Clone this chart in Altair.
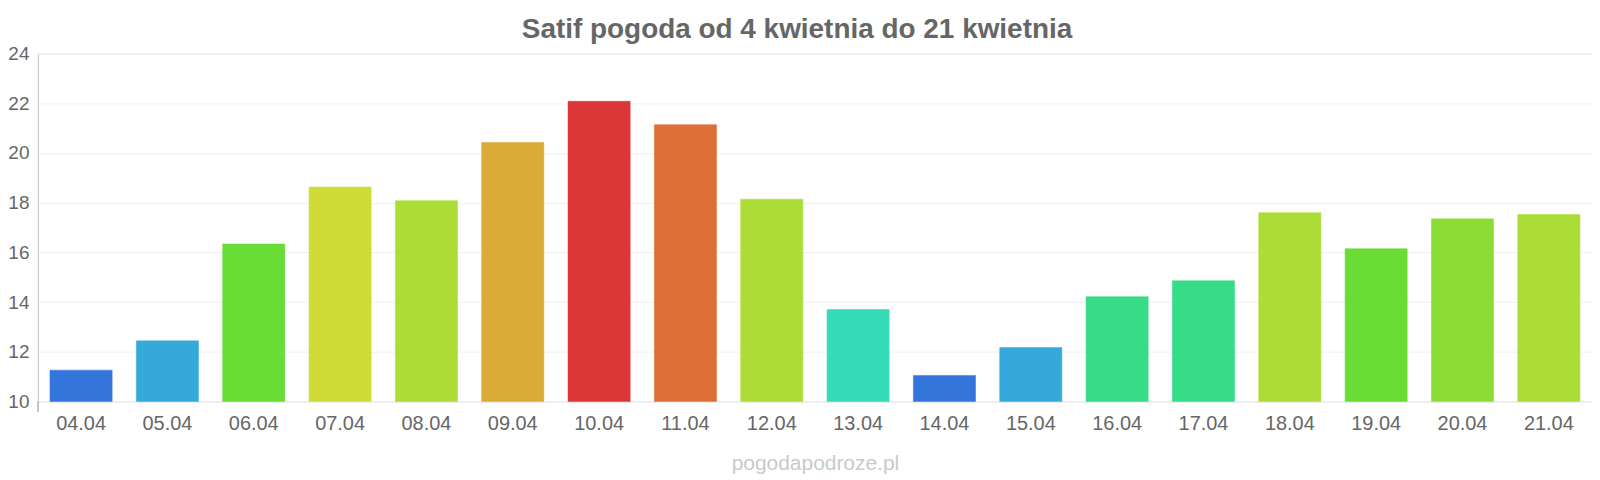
import altair as alt
import pandas as pd

dates = ["04.04", "05.04", "06.04", "07.04", "08.04", "09.04", "10.04", "11.04", "12.04",
         "13.04", "14.04", "15.04", "16.04", "17.04", "18.04", "19.04", "20.04", "21.04"]
temps = [11.26, 12.44, 16.34, 18.63, 18.08, 20.42, 22.08, 21.14, 18.14,
         13.70, 11.05, 12.17, 14.22, 14.86, 17.60, 16.15, 17.35, 17.52]
colors = ["#3475db", "#36a9db", "#6adc36", "#cfdc36", "#acdc36", "#dcaa36", "#dc3636", "#dc7036", "#acdc36",
          "#36dbb8", "#3475db", "#36a9db", "#36dc87", "#36dc87", "#acdc36", "#6adc36", "#8cdc36", "#acdc36"]
y_ticks = [10, 12, 14, 16, 18, 20, 22, 24]
y_base = 10

df = pd.DataFrame({"date": dates, "temp": temps})

FONT = "Liberation Sans"

bars = alt.Chart(df).mark_bar(strokeWidth=1, strokeOpacity=0.5).encode(
    x=alt.X("date:N", sort=dates,
            scale=alt.Scale(paddingInner=0.28, paddingOuter=0.14),
            axis=alt.Axis(title="pogodapodroze.pl", titleFont=FONT, titleFontSize=21,
                          titleFontWeight="normal", titleColor="#c5cbce", titlePadding=19,
                          labelFont=FONT, labelFontSize=20, labelColor="#666666",
                          labelPadding=12, ticks=False, domain=False, labelAngle=0)),
    y=alt.Y("temp:Q", scale=alt.Scale(domain=[10, 24], nice=False, zero=False),
            axis=alt.Axis(title=None, values=y_ticks, labelFont=FONT, labelFontSize=19,
                          labelColor="#666666", labelPadding=9, ticks=False,
                          domainColor="#c0c8cc", domainWidth=1,
                          gridColor="#f0f0f0", gridWidth=1)),
    y2=alt.datum(y_base),
    color=alt.Color("date:N", scale=alt.Scale(domain=dates, range=colors), legend=None),
    stroke=alt.Color("date:N", scale=alt.Scale(domain=dates, range=colors), legend=None),
)

ext = alt.Chart(df).mark_rule(color="#c0c8cc", strokeWidth=1).encode(
    x=alt.value(0), y=alt.value(349), y2=alt.value(359)
)

chart = alt.layer(bars, ext).properties(
    width=1559,
    height=349,
    autosize=alt.AutoSizeParams(type="none"),
    padding={"left": 30, "top": 45, "right": 0, "bottom": 73},
    title=alt.TitleParams("Satif pogoda od 4 kwietnia do 21 kwietnia", font=FONT, fontSize=28,
                          fontWeight="bold", color="#666666", anchor="middle", frame="group",
                          dx=-18, offset=1),
).configure_view(stroke=None).configure(background="white")

chart.save("out.html", embed_options={"renderer": "svg", "actions": False})
